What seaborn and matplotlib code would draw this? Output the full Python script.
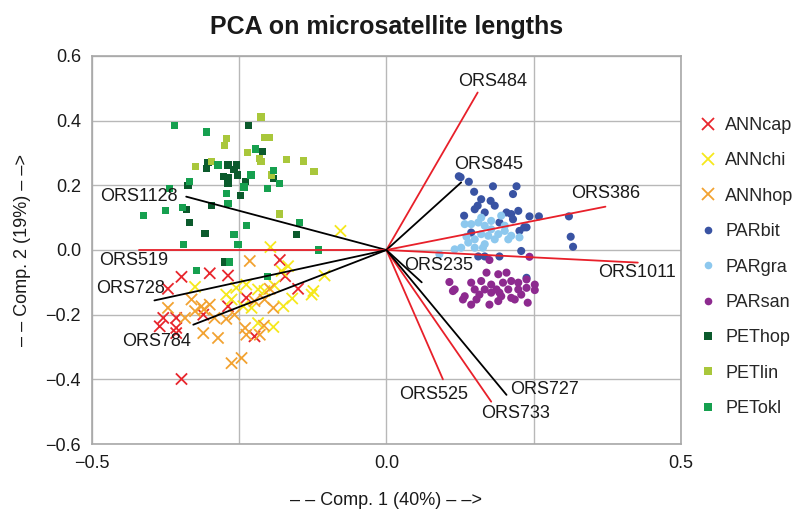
import matplotlib
matplotlib.use("Agg")
import matplotlib.pyplot as plt
from matplotlib.lines import Line2D
import seaborn as sns
import pandas as pd

# --- sample scores ---
anncap_x = [-0.181, -0.348, -0.300, -0.269, -0.172, -0.371, -0.150, -0.269, -0.238,
            -0.311, -0.379, -0.357, -0.385, -0.357, -0.224, -0.348, -0.357]
anncap_y = [-0.031, -0.083, -0.072, -0.079, -0.081, -0.120, -0.120, -0.174, -0.148,
            -0.200, -0.210, -0.210, -0.236, -0.241, -0.267, -0.399, -0.257]
annchi_x = [-0.078, -0.197, -0.167, -0.178, -0.105, -0.325, -0.238, -0.255, -0.207,
            -0.218, -0.127, -0.124, -0.272, -0.263, -0.175, -0.229, -0.243, -0.218,
            -0.192, -0.160, -0.190]
annchi_y = [0.059, 0.009, -0.050, -0.065, -0.079, -0.114, -0.107, -0.117, -0.127,
            -0.122, -0.138, -0.127, -0.138, -0.153, -0.174, -0.179, -0.174, -0.226,
            -0.238, -0.150, -0.110]
annhop_x = [-0.232, -0.198, -0.371, -0.331, -0.314, -0.300, -0.325, -0.310, -0.224,
            -0.207, -0.192, -0.342, -0.292, -0.272, -0.258, -0.311, -0.286, -0.240,
            -0.238, -0.215, -0.208, -0.263, -0.246]
annhop_y = [-0.034, -0.120, -0.179, -0.153, -0.174, -0.169, -0.189, -0.184, -0.158,
            -0.153, -0.179, -0.210, -0.210, -0.213, -0.200, -0.257, -0.272, -0.241,
            -0.262, -0.262, -0.234, -0.350, -0.334]

parbit_x = [0.123, 0.126, 0.140, 0.181, 0.221, 0.149, 0.215, 0.161, 0.177, 0.184,
            0.155, 0.132, 0.167, 0.204, 0.212, 0.224, 0.215, 0.243, 0.259, 0.310,
            0.234, 0.238, 0.226, 0.313, 0.317, 0.229, 0.156, 0.167, 0.192, 0.238,
            0.144, 0.192, 0.150]
parbit_y = [0.228, 0.225, 0.211, 0.197, 0.197, 0.180, 0.173, 0.157, 0.152, 0.137,
            0.137, 0.106, 0.116, 0.116, 0.111, 0.121, 0.095, 0.104, 0.104, 0.104,
            0.070, 0.070, 0.059, 0.041, 0.010, -0.003, -0.020, -0.020, -0.020, -0.086,
            0.054, 0.085, 0.126]
pargra_x = [0.133, 0.144, 0.156, 0.167, 0.178, 0.161, 0.173, 0.150, 0.190, 0.201,
            0.212, 0.226, 0.139, 0.127, 0.116, 0.150, 0.167, 0.184, 0.201, 0.207,
            0.161, 0.178, 0.195, 0.136, 0.164, 0.090]
pargra_y = [0.080, 0.080, 0.085, 0.075, 0.064, 0.049, 0.044, 0.033, 0.049, 0.075,
            0.044, 0.039, 0.023, 0.007, 0.002, 0.007, 0.018, 0.033, 0.059, 0.033,
            0.100, 0.090, 0.106, 0.041, 0.007, -0.013]
parsan_x = [0.175, 0.243, 0.170, 0.190, 0.204, 0.107, 0.144, 0.161, 0.178, 0.198,
            0.212, 0.224, 0.238, 0.252, 0.116, 0.150, 0.167, 0.187, 0.207, 0.224,
            0.252, 0.238, 0.133, 0.158, 0.178, 0.195, 0.212, 0.229, 0.130, 0.144,
            0.175, 0.190, 0.218, 0.240, 0.113, 0.153, 0.192]
parsan_y = [-0.031, -0.021, -0.070, -0.075, -0.070, -0.099, -0.101, -0.096, -0.107,
            -0.101, -0.096, -0.101, -0.091, -0.107, -0.122, -0.122, -0.122, -0.122,
            -0.122, -0.122, -0.124, -0.117, -0.143, -0.138, -0.132, -0.143, -0.148,
            -0.138, -0.153, -0.169, -0.169, -0.158, -0.153, -0.163, -0.127, -0.153,
            -0.132]

pethop_x = [-0.234, -0.210, -0.303, -0.305, -0.269, -0.255, -0.259, -0.253, -0.192,
            -0.277, -0.268, -0.337, -0.239, -0.269, -0.248, -0.297, -0.340, -0.335,
            -0.308, -0.153, -0.275]
pethop_y = [0.385, 0.305, 0.270, 0.253, 0.263, 0.263, 0.248, 0.232, 0.220,
            0.227, 0.223, 0.199, 0.212, 0.206, 0.168, 0.137, 0.126, 0.085,
            0.052, 0.047, -0.037]
petlin_x = [-0.213, -0.272, -0.275, -0.207, -0.198, -0.236, -0.216, -0.213, -0.170,
            -0.141, -0.123, -0.324, -0.297, -0.195, -0.181]
petlin_y = [0.411, 0.344, 0.323, 0.347, 0.347, 0.302, 0.284, 0.273, 0.280,
            0.275, 0.242, 0.258, 0.273, 0.232, 0.111]
petokl_x = [-0.360, -0.306, -0.222, -0.286, -0.192, -0.230, -0.335, -0.181, -0.242,
            -0.369, -0.202, -0.272, -0.269, -0.346, -0.375, -0.413, -0.147, -0.238,
            -0.259, -0.344, -0.252, -0.115, -0.266, -0.323, -0.202]
petokl_y = [0.385, 0.365, 0.312, 0.263, 0.246, 0.232, 0.212, 0.206, 0.195,
            0.191, 0.191, 0.175, 0.144, 0.132, 0.121, 0.106, 0.085, 0.075,
            0.048, 0.016, 0.016, 0.000, -0.037, -0.063, -0.081]

groups = ["ANNcap", "ANNchi", "ANNhop", "PARbit", "PARgra", "PARsan",
          "PEThop", "PETlin", "PETokl"]
group_x = [anncap_x, annchi_x, annhop_x, parbit_x, pargra_x, parsan_x,
           pethop_x, petlin_x, petokl_x]
group_y = [anncap_y, annchi_y, annhop_y, parbit_y, pargra_y, parsan_y,
           pethop_y, petlin_y, petokl_y]

# --- loadings ---
loci = ["ORS484", "ORS845", "ORS386", "ORS1011", "ORS235", "ORS525",
        "ORS733", "ORS727", "ORS1128", "ORS519", "ORS728", "ORS784"]
load_x = [0.155, 0.127, 0.372, 0.427, 0.060, 0.096, 0.178, 0.204, -0.340, -0.420, -0.394, -0.328]
load_y = [0.487, 0.209, 0.134, -0.039, -0.100, -0.400, -0.469, -0.448, 0.165, 0.000, -0.156, -0.231]
load_red = [True, False, True, True, False, True, True, False, False, True, False, False]

# label placement (layout only)
label_pos = {
    "ORS484": (0.18, 0.52), "ORS845": (0.173, 0.265), "ORS386": (0.372, 0.175),
    "ORS1011": (0.425, -0.07), "ORS235": (0.089, -0.048), "ORS525": (0.081, -0.447),
    "ORS733": (0.219, -0.505), "ORS727": (0.268, -0.432), "ORS1128": (-0.421, 0.165),
    "ORS519": (-0.43, -0.034), "ORS728": (-0.435, -0.119), "ORS784": (-0.39, -0.283),
}

palette = {"ANNcap": "#e8262d", "ANNchi": "#f6e81c", "ANNhop": "#f2a231",
           "PARbit": "#3953a3", "PARgra": "#8dc8ee", "PARsan": "#8d2a8f",
           "PEThop": "#0b5a2c", "PETlin": "#a9c73b", "PETokl": "#16a04f"}
markers = {"ANN": "x", "PAR": "o", "PET": "s"}
sizes = {"ANN": 65, "PAR": 34, "PET": 27}

rows = []
for g, xs, ys in zip(groups, group_x, group_y):
    for a, b in zip(xs, ys):
        rows.append({"group": g, "genus": g[:3], "pc1": a, "pc2": b})
df = pd.DataFrame(rows)

sns.set_style("white")
plt.rcParams["font.family"] = ["Liberation Sans", "DejaVu Sans"]

fig = plt.figure(figsize=(8, 5.23), dpi=100)
ax = fig.add_axes([0.115, 0.151, 0.736, 0.742])

for genus, sub in df.groupby("genus"):
    lw = 1.3 if genus == "ANN" else 0
    sns.scatterplot(data=sub, x="pc1", y="pc2", hue="group", palette=palette,
                    marker=markers[genus], s=sizes[genus], linewidth=lw,
                    legend=False, ax=ax, zorder=2)

for name, lx, ly, red in zip(loci, load_x, load_y, load_red):
    ax.plot([0, lx], [0, ly], color="#e8202a" if red else "black", lw=1.3, zorder=3)
    tx, ty = label_pos[name]
    ax.text(tx, ty, name, fontsize=13, ha="center", va="center", color="#1a1a1a", zorder=4)

ax.set_xlim(-0.5, 0.5)
ax.set_ylim(-0.6, 0.6)
ax.set_xticks([-0.5, 0.0, 0.5])
ax.set_xticks([-0.25, 0.25], minor=True)
ax.set_yticks([-0.6, -0.4, -0.2, 0.0, 0.2, 0.4, 0.6])
ax.set_xticklabels(["\u22120.5", "0.0", "0.5"])
ax.set_yticklabels(["\u22120.6", "\u22120.4", "\u22120.2", "0.0", "0.2", "0.4", "0.6"])
ax.grid(True, which="both", color="#b8b8b8", lw=1)
ax.tick_params(axis="both", which="major", labelsize=13, length=3, direction="in",
               color="black", labelcolor="#1a1a1a", pad=8)
ax.tick_params(which="minor", length=0)
ax.set_axisbelow(True)
for sp in ax.spines.values():
    sp.set_color("#a8a8a8")
    sp.set_linewidth(1.2)

ax.set_xlabel("\u2013 \u2013 Comp. 1 (40%) \u2013 \u2013>", fontsize=13, labelpad=14, color="#1a1a1a")
ax.set_ylabel("\u2013 \u2013 Comp. 2 (19%) \u2013 \u2013>", fontsize=13, labelpad=10, color="#1a1a1a")
ax.set_title("PCA on microsatellite lengths", fontsize=18, fontweight="bold", pad=16, color="#1a1a1a")

handles = []
for g in groups:
    m = markers[g[:3]]
    if m == "x":
        h = Line2D([], [], marker="x", ls="", color=palette[g], markersize=9, mew=1.3)
    else:
        h = Line2D([], [], marker=m, ls="", color=palette[g], markersize=5.5, mew=0)
    handles.append(h)
ax.legend(handles, groups, loc="upper left", bbox_to_anchor=(1.0, 0.885), frameon=False,
          fontsize=13, labelspacing=1.02, handletextpad=0.35, handlelength=1.2)

fig.savefig("out.png", dpi=100)
